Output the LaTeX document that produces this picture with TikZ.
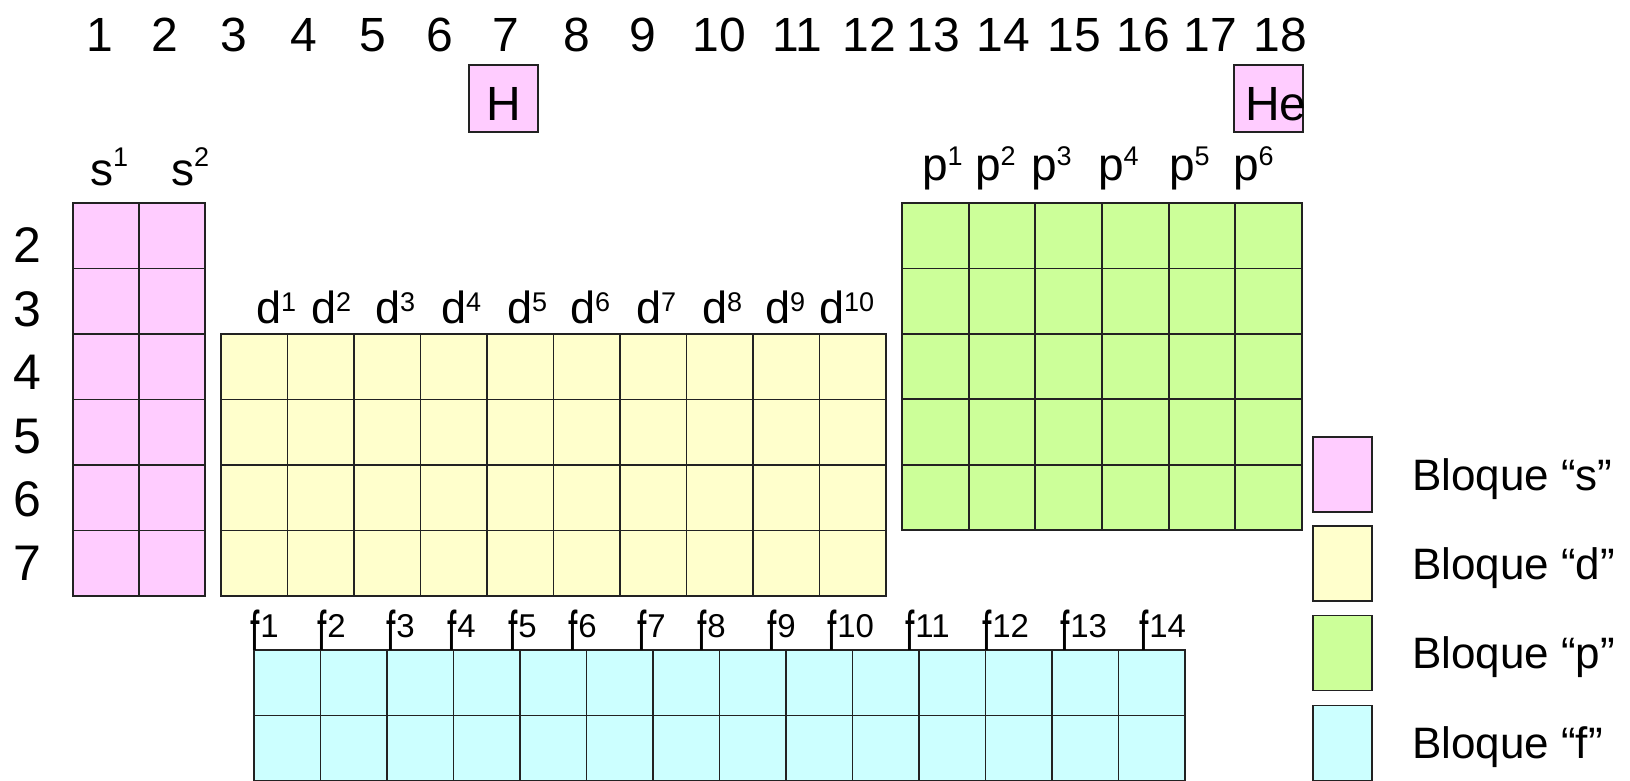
\documentclass[tikz,border=0pt]{standalone}
\usepackage{fontspec}
\setmainfont{Liberation Sans}
\definecolor{sblk}{HTML}{FFCCFF}
\definecolor{dblk}{HTML}{FFFFCC}
\definecolor{pblk}{HTML}{CCFF99}
\definecolor{fblk}{HTML}{CCFFFF}
\definecolor{edge}{HTML}{222222}
\newcommand\fs[1]{\fontsize{#1}{#1}\selectfont}
\newcommand\orbl[5]{{\fs{#1}#2}\raisebox{#4}{\fs{#3}#5}}
\newcommand\flab[1]{\scalebox{0.6}[1]{\fs{56}f}\hspace{1pt}\raisebox{13pt}{\fs{33}#1}}
\begin{document}
\begin{tikzpicture}[x=1pt,y=-1pt,
  cell/.style={draw=edge,line width=1.8pt},
  txt/.style={inner sep=0pt,outer sep=0pt,text=black},
  num/.style={txt,anchor=base,font=\fs{48}},
  rnum/.style={txt,anchor=base,font=\fs{50}},
  lbl/.style={txt,anchor=base west},
  leg/.style={txt,anchor=base west,font=\fs{44}}]
\useasboundingbox (0,0) rectangle (1630,781);
\fill[white] (0,0) rectangle (1630,781);
\begin{scope}
\clip (0,0) rectangle (1630,781);
% group numbers
\foreach \i/\x in {1/100,2/165,3/234,4/304,5/373,6/440,7/506,8/577,9/643,10/719,11/797,12/869,13/933,14/1003,15/1074,16/1143,17/1210,18/1280}
  \node[num] (g\i) at (\x,52) {\i};
% H and He
\node[cell,fill=sblk,minimum width=69pt,minimum height=67pt,inner sep=0pt] (hbox) at (503.5,98.5) {};
\node[num] (htxt) at (503.5,121) {H};
\node[cell,fill=sblk,minimum width=69pt,minimum height=67pt,inner sep=0pt] (hebox) at (1268.5,98.5) {};
\node[lbl,font=\fs{48}] (hetxt) at (1245,121) {He};
% row numbers
\foreach \i/\y in {2/262,3/326,4/389,5/453,6/516,7/580}
  \node[rnum] (r\i) at (27,\y) {\i};
% s block
\foreach \c in {0,1} \foreach \r in {0,...,5}
  \draw[cell,fill=sblk] (73+66*\c,203+65.5*\r) rectangle ++(66,65.5);
\node[lbl] (s1) at (90,185) {\orbl{46}{s}{27}{18pt}{1}};
\node[lbl] (s2) at (171,185) {\orbl{46}{s}{27}{18pt}{2}};
% d block
\foreach \c in {0,...,9} \foreach \r in {0,...,3}
  \draw[cell,fill=dblk] (221+66.5*\c,334+65.5*\r) rectangle ++(66.5,65.5);
\foreach \i/\x in {1/256,2/311,3/375,4/441,5/507,6/570,7/636,8/702,9/765,10/819}
  \node[lbl] (d\i) at (\x,323) {\orbl{45}{d}{27}{12pt}{\i}};
% p block
\foreach \c in {0,...,5} \foreach \r in {0,...,4}
  \draw[cell,fill=pblk] (902+66.67*\c,203+65.4*\r) rectangle ++(66.67,65.4);
\foreach \i/\x in {1/922,2/975,3/1031,4/1098,5/1169,6/1233}
  \node[lbl] (p\i) at (\x,180) {\orbl{46}{p}{27}{15pt}{\i}};
% f block
\foreach \c in {0,...,13} \foreach \r in {0,1}
  \draw[cell,fill=fblk] (254+66.5*\c,650+65.5*\r) rectangle ++(66.5,65.5);
\foreach \i/\x in {1/254,2/321,3/390,4/451,5/512,6/572,7/641,8/701,9/771,10/831,11/909,12/986,13/1064,14/1143}
  \node[lbl] (f\i) at (\x-4,650) {\flab{\i}};
% legend
\node[cell,fill=sblk,minimum width=59pt,minimum height=75pt,inner sep=0pt] (ks) at (1342.5,474.5) {};
\node[cell,fill=dblk,minimum width=59pt,minimum height=75pt,inner sep=0pt] (kd) at (1342.5,563.5) {};
\node[cell,fill=pblk,minimum width=59pt,minimum height=75pt,inner sep=0pt] (kp) at (1342.5,653) {};
\node[cell,fill=fblk,minimum width=59pt,minimum height=75pt,inner sep=0pt] (kf) at (1342.5,743) {};
\node[leg] (ts) at (1412,490) {Bloque “s”};
\node[leg] (td) at (1412,579) {Bloque “d”};
\node[leg] (tp) at (1412,668) {Bloque “p”};
\node[leg] (tf) at (1412,758) {Bloque “f”};
\end{scope}
\end{tikzpicture}
\end{document}
